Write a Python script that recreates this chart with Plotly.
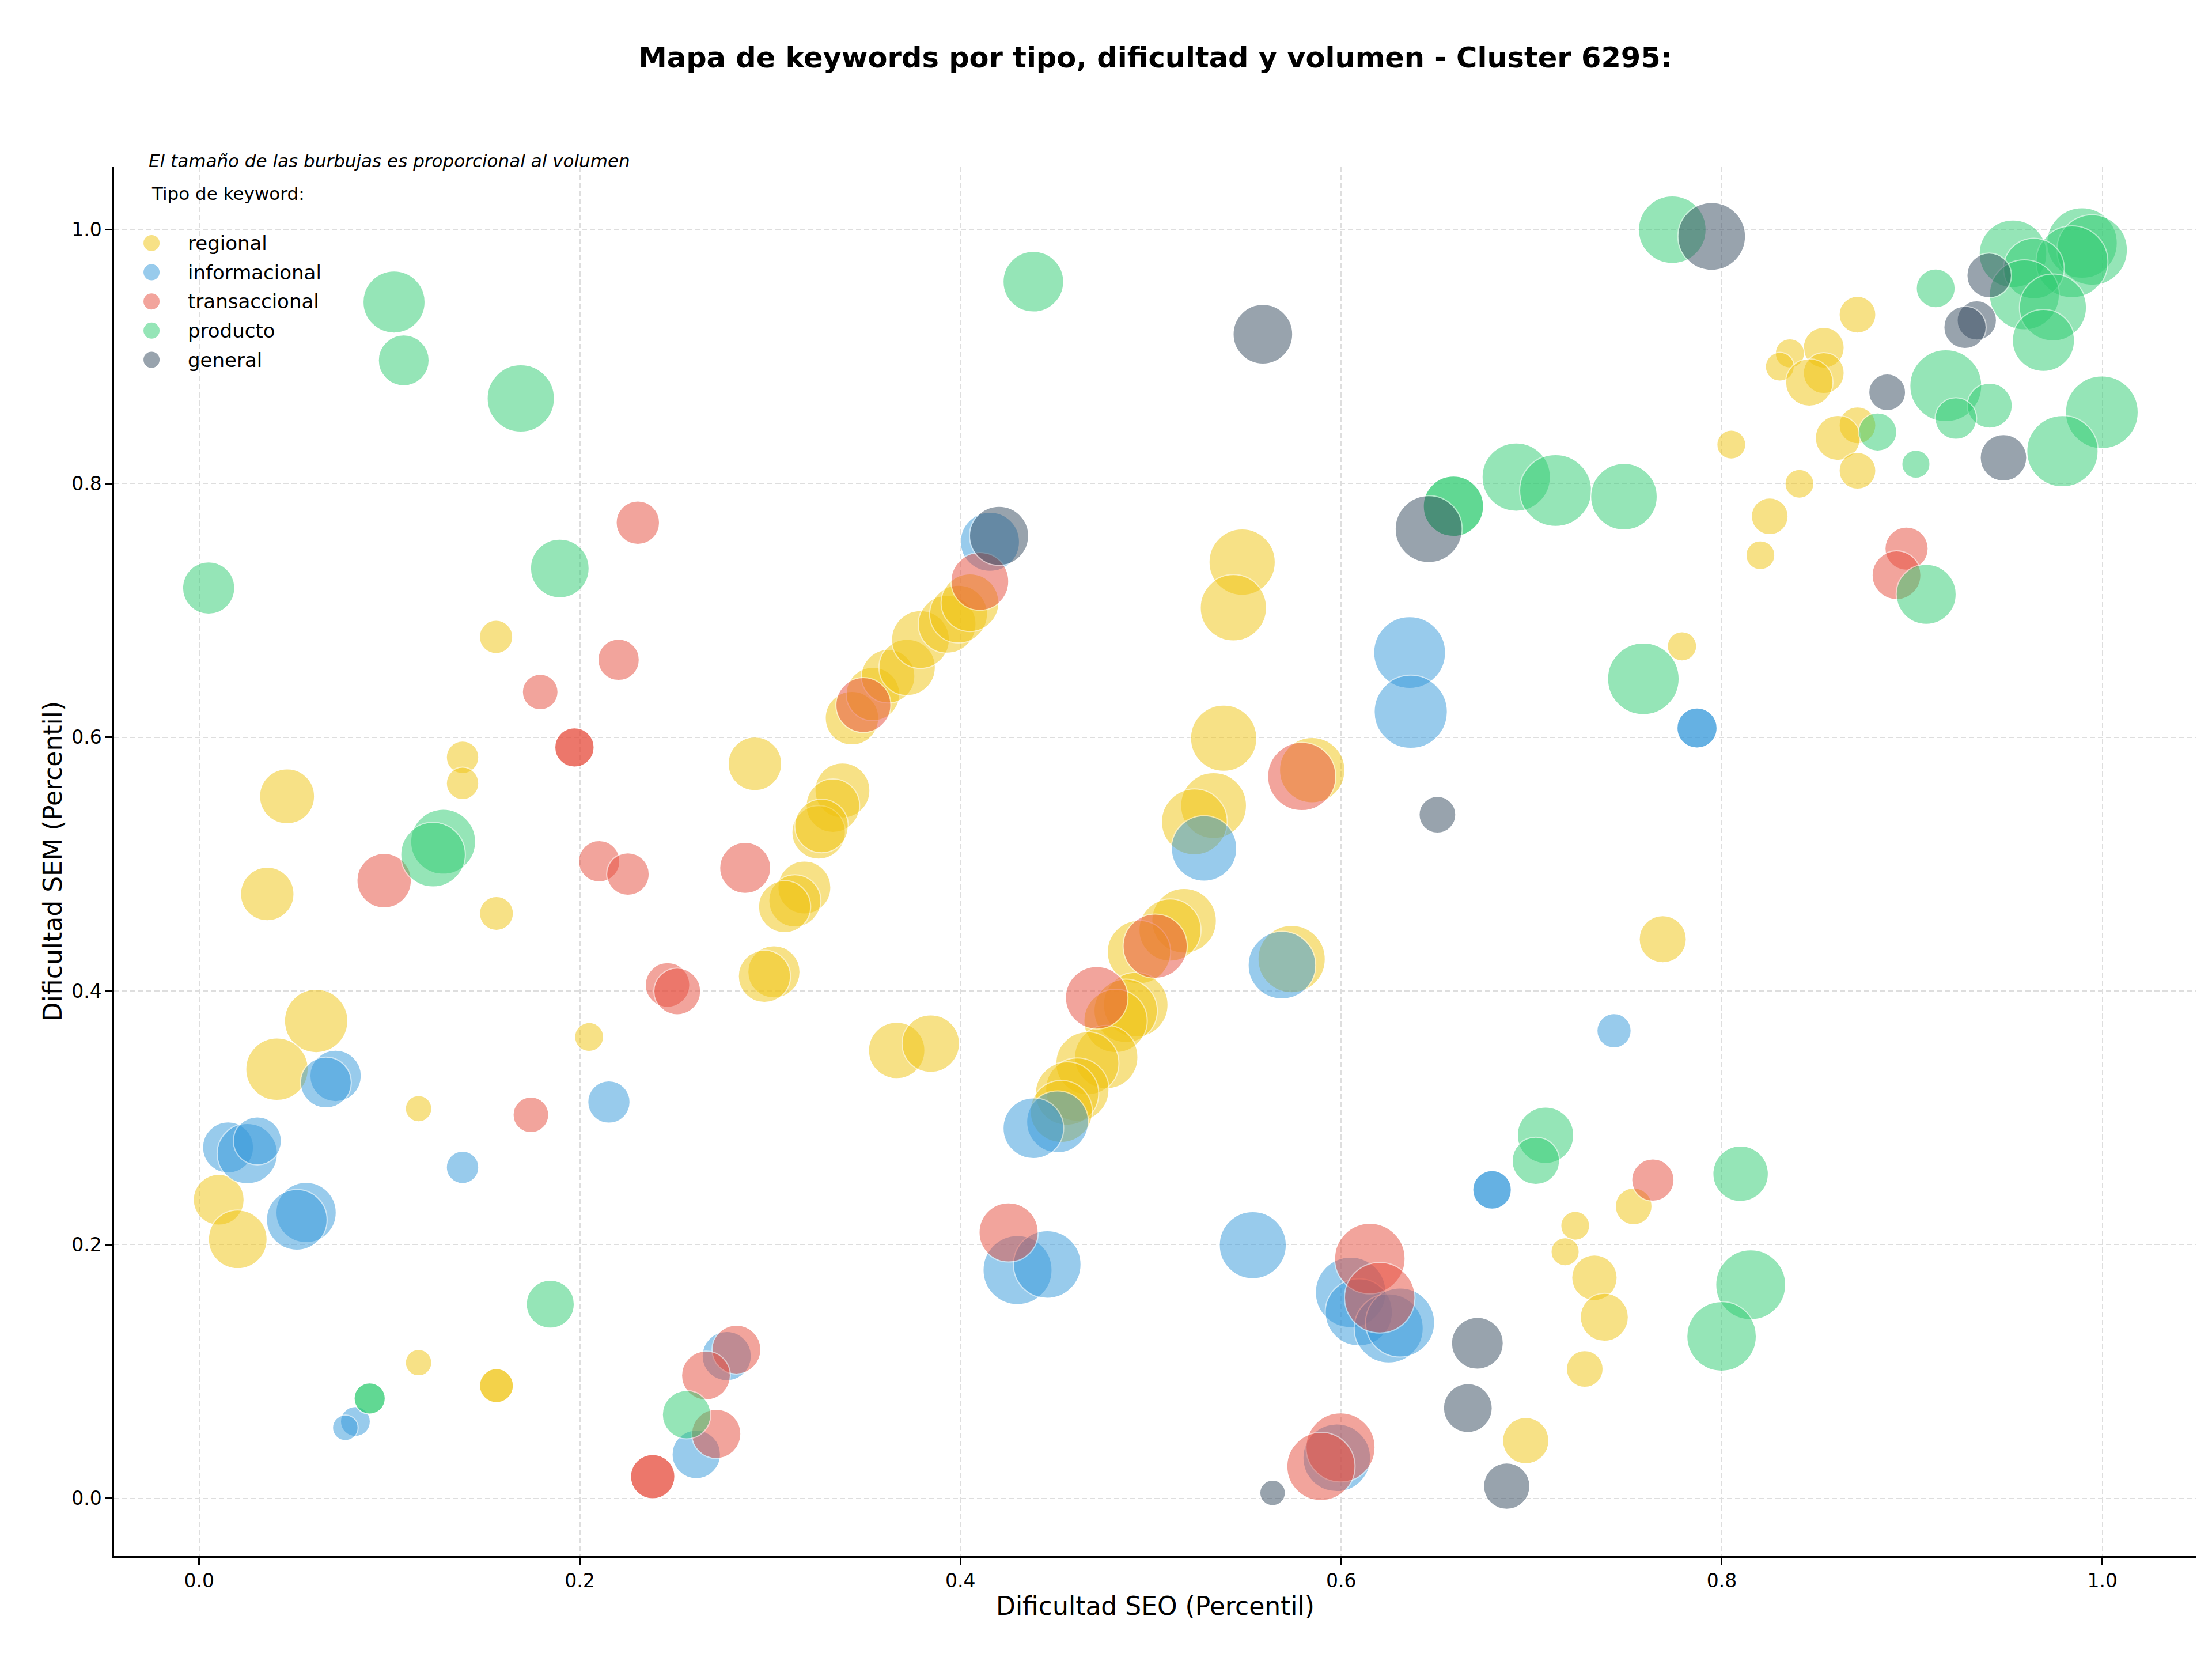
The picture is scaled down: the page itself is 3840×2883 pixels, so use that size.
import plotly.graph_objects as go

# --- datos: dificultad SEO (x), dificultad SEM (y), volumen ---
regional_seo = [0.343, 0.354, 0.362, 0.372, 0.379, 0.393, 0.399, 0.405, 0.292, 0.338,
                0.333, 0.3255, 0.327, 0.318, 0.313, 0.3076, 0.302, 0.297, 0.3665, 0.3844,
                0.548, 0.5434, 0.5383, 0.533, 0.5229, 0.5848, 0.574, 0.5175, 0.5101, 0.4938,
                0.4921, 0.4868, 0.4815, 0.4766, 0.4667, 0.4614, 0.456, 0.453, 0.1384, 0.1384,
                0.0462, 0.0358, 0.1562, 0.156, 0.2049, 0.0615, 0.0409, 0.1153, 0.0103, 0.0203,
                0.1153, 0.1562, 0.1562, 0.8713, 0.8536, 0.8358, 0.8305, 0.8536, 0.846, 0.8713,
                0.861, 0.8713, 0.8408, 0.805, 0.8252, 0.8203, 0.7791, 0.769, 0.7537, 0.723,
                0.7177, 0.7331, 0.7383, 0.728, 0.697]
regional_sem = [0.615, 0.634, 0.648, 0.655, 0.677, 0.689, 0.697, 0.706, 0.579, 0.558,
                0.546, 0.525, 0.530, 0.4815, 0.471, 0.4664, 0.415, 0.4115, 0.3531, 0.3585,
                0.738, 0.702, 0.5992, 0.5461, 0.5333, 0.574, 0.4251, 0.4553, 0.448, 0.4306,
                0.3891, 0.3843, 0.3764, 0.3478, 0.343, 0.3222, 0.3191, 0.305, 0.5841, 0.5636,
                0.5534, 0.4764, 0.4611, 0.679, 0.3637, 0.3763, 0.3383, 0.3072, 0.2354, 0.2042,
                0.107, 0.0889, 0.0889, 0.933, 0.907, 0.9025, 0.892, 0.887, 0.8796, 0.8458,
                0.8359, 0.81, 0.7997, 0.8306, 0.7741, 0.7434, 0.6716, 0.4407, 0.2302, 0.2149,
                0.1944, 0.1739, 0.1428, 0.102, 0.0456]
regional_vol = [1440, 1440, 1440, 1600, 1680, 1680, 1680, 1680, 1440, 1520,
                1440, 1440, 1440, 1410, 1370, 1370, 1370, 1370, 1600, 1660,
                2210, 2210, 2210, 2180, 2180, 2150, 2280, 2100, 1940, 2020,
                2100, 2020, 2020, 2020, 2000, 2020, 2020, 1940, 530, 530,
                1520, 1440, 580, 560, 420, 2020, 1960, 350, 1300, 1730,
                350, 580, 580, 680, 840, 430, 420, 840, 1130, 680,
                1020, 680, 420, 420, 680, 420, 430, 1120, 680, 420,
                400, 1040, 1160, 680, 1080]

informacional_seo = [0.4155, 0.636, 0.6366, 0.528, 0.5689, 0.451, 0.4383, 0.430, 0.4456, 0.5536,
                     0.605, 0.6093, 0.625, 0.631, 0.5977, 0.6793, 0.6793, 0.787, 0.787, 0.7434,
                     0.0717, 0.0666, 0.2153, 0.1384, 0.0152, 0.0253, 0.0306, 0.0562, 0.0513, 0.0821,
                     0.0768, 0.2772, 0.2612]
informacional_sem = [0.754, 0.6667, 0.620, 0.5123, 0.4203, 0.2968, 0.2918, 0.180, 0.1844, 0.1996,
                     0.1624, 0.1467, 0.134, 0.1386, 0.032, 0.2432, 0.2432, 0.6072, 0.6072, 0.3686,
                     0.333, 0.3278, 0.3124, 0.2609, 0.2766, 0.2717, 0.2818, 0.2253, 0.2196, 0.0606,
                     0.0557, 0.1122, 0.0347]
informacional_vol = [1760, 2600, 2700, 2150, 2300, 1920, 1850, 2400, 2300, 2260,
                     2500, 2270, 2400, 2400, 2300, 750, 750, 810, 810, 590,
                     1330, 1300, 900, 530, 1310, 1830, 1160, 1830, 1850, 450,
                     330, 1220, 1180]

transaccional_seo = [0.2305, 0.2204, 0.1792, 0.1972, 0.1972, 0.0972, 0.2102, 0.2253, 0.2869, 0.2461,
                     0.2512, 0.1743, 0.349, 0.4102, 0.5793, 0.5023, 0.4716, 0.4253, 0.6151, 0.6203,
                     0.5997, 0.5894, 0.8971, 0.8918, 0.7638, 0.2823, 0.2663, 0.2717, 0.2383, 0.2383]
transaccional_sem = [0.769, 0.661, 0.6356, 0.5919, 0.5919, 0.4869, 0.5022, 0.4921, 0.497, 0.4047,
                     0.3996, 0.3023, 0.6253, 0.7228, 0.569, 0.4353, 0.3946, 0.2096, 0.189, 0.1582,
                     0.0402, 0.0252, 0.7486, 0.7277, 0.2509, 0.1173, 0.0969, 0.0509, 0.0172, 0.0172]
transaccional_vol = [950, 860, 640, 780, 780, 1490, 860, 910, 1310, 1000,
                     1100, 640, 1520, 1680, 2340, 2070, 1970, 1760, 2500, 2500,
                     2400, 2340, 940, 1200, 900, 1200, 1200, 1220, 990, 990]

producto_seo = [0.005, 0.1024, 0.1075, 0.169, 0.1895, 0.1282, 0.1229, 0.4383, 0.659, 0.659,
                0.692, 0.7127, 0.7486, 0.774, 0.953, 0.9893, 0.9946, 0.984, 0.964, 0.959,
                0.974, 0.969, 0.9124, 0.9177, 0.9408, 0.923, 0.9997, 0.979, 0.902, 0.8819,
                0.9074, 0.7588, 0.7074, 0.7023, 0.8099, 0.8152, 0.7999, 0.1845, 0.0896, 0.0896,
                0.2561]
producto_sem = [0.7176, 0.943, 0.897, 0.867, 0.733, 0.5176, 0.5074, 0.959, 0.782, 0.782,
                0.805, 0.7944, 0.7896, 1.0, 0.981, 0.9895, 0.984, 0.9747, 0.9694, 0.9486,
                0.9387, 0.9127, 0.9538, 0.877, 0.8613, 0.8512, 0.8561, 0.8254, 0.8152, 0.8405,
                0.7126, 0.646, 0.2862, 0.2661, 0.2559, 0.1684, 0.1277, 0.1531, 0.0788, 0.0788,
                0.066]
producto_vol = [1370, 1940, 1300, 2280, 1730, 2120, 2100, 1850, 1830, 1830,
                2350, 2600, 2230, 2300, 2300, 2500, 2500, 2600, 1850, 2460,
                2260, 1940, 760, 2600, 1020, 870, 2660, 2560, 400, 730,
                1810, 2580, 1600, 1130, 1550, 2460, 2430, 1160, 490, 490,
                1180]

general_seo = [0.5589, 0.4203, 0.646, 0.7947, 0.9405, 0.934, 0.9278, 0.8869, 0.948, 0.6506,
               0.6716, 0.6666, 0.687, 0.564]
general_sem = [0.9176, 0.7587, 0.764, 0.9947, 0.964, 0.9285, 0.923, 0.8718, 0.8202, 0.5389,
               0.1223, 0.0712, 0.0097, 0.0043]
general_vol = [1790, 1760, 2260, 2300, 1000, 780, 900, 680, 1090, 680,
               1350, 1200, 1080, 330]

tipos = ["regional", "informacional", "transaccional", "producto", "general"]
colores = ["#F1C40F", "#3498DB", "#E74C3C", "#2ECC71", "#34495E"]
series = [
    (regional_seo, regional_sem, regional_vol),
    (informacional_seo, informacional_sem, informacional_vol),
    (transaccional_seo, transaccional_sem, transaccional_vol),
    (producto_seo, producto_sem, producto_vol),
    (general_seo, general_sem, general_vol),
]

ticks = [0.0, 0.2, 0.4, 0.6, 0.8, 1.0]
tick_text = ["0.0", "0.2", "0.4", "0.6", "0.8", "1.0"]

FONT = "DejaVu Sans"
SIZEREF = 0.3334  # area mode: diametro px = sqrt(2 * vol / sizeref)
PLOT_W, PLOT_H = 3615, 2412  # tamaño del area de datos en px
# la pagina deja 8px de margen en el body, por eso la figura es 16px mas pequeña
FIG_W, FIG_H = 3824, 2867

fig = go.Figure()
for tipo, color, (xs, ys, vols) in zip(tipos, colores, series):
    fig.add_trace(go.Scatter(
        x=xs, y=ys, mode="markers", name=tipo, showlegend=False,
        marker=dict(
            size=vols, sizemode="area", sizeref=SIZEREF,
            color=color, opacity=0.5,
            line=dict(color="white", width=2),
        ),
    ))

# leyenda manual (los simbolos de la leyenda de plotly no pasan de 16px)
shapes = []
annotations = [
    dict(text="<i>El tamaño de las burbujas es proporcional al volumen</i>",
         xref="paper", yref="paper", x=0.016, y=1.004,
         xanchor="left", yanchor="middle", showarrow=False,
         font=dict(family=FONT, size=31, color="black")),
    dict(text="Tipo de keyword:", xref="paper", yref="paper", x=0.0173, y=0.9807,
         xanchor="left", yanchor="middle", showarrow=False,
         font=dict(family=FONT, size=31, color="black")),
]
r_x, r_y = 15 / PLOT_W, 15 / PLOT_H
for i, (tipo, color) in enumerate(zip(tipos, colores)):
    cy = 0.9449 - i * 0.0210
    shapes.append(dict(type="circle", xref="paper", yref="paper",
                       x0=0.018 - r_x, x1=0.018 + r_x, y0=cy - r_y, y1=cy + r_y,
                       fillcolor=color, opacity=0.5, line=dict(color="white", width=2)))
    annotations.append(dict(text=tipo, xref="paper", yref="paper", x=0.0349, y=cy,
                            xanchor="left", yanchor="middle", showarrow=False,
                            font=dict(family=FONT, size=34, color="black")))

axis_common = dict(
    tickvals=ticks, ticktext=tick_text,
    tickfont=dict(family=FONT, size=33, color="black"),
    ticks="outside", ticklen=12, tickwidth=2.5, tickcolor="black",
    showline=True, linecolor="black", linewidth=2.5, mirror=False,
    showgrid=True, gridcolor="#dedede", gridwidth=2, griddash="9px,5px",
    zeroline=False, automargin=False,
)

fig.update_layout(
    width=FIG_W, height=FIG_H,
    paper_bgcolor="white", plot_bgcolor="white",
    margin=dict(l=190, r=19, t=281, b=174),
    showlegend=False,
    title=dict(
        text="<b>Mapa de keywords por tipo, dificultad y volumen - Cluster 6295:</b>",
        font=dict(family=FONT, size=49.5, color="black"),
        x=0.5, xref="paper", xanchor="center",
        y=0.9679, yanchor="middle",
    ),
    xaxis=dict(
        range=[-0.0447, 1.0494],
        title=dict(text="Dificultad SEO (Percentil)", standoff=10,
                   font=dict(family=FONT, size=44, color="black")),
        **axis_common,
    ),
    yaxis=dict(
        range=[-0.0455, 1.0498],
        title=dict(text="Dificultad SEM (Percentil)", standoff=3,
                   font=dict(family=FONT, size=44, color="black")),
        **axis_common,
    ),
    shapes=shapes,
    annotations=annotations,
)

fig.write_html("out.html")
